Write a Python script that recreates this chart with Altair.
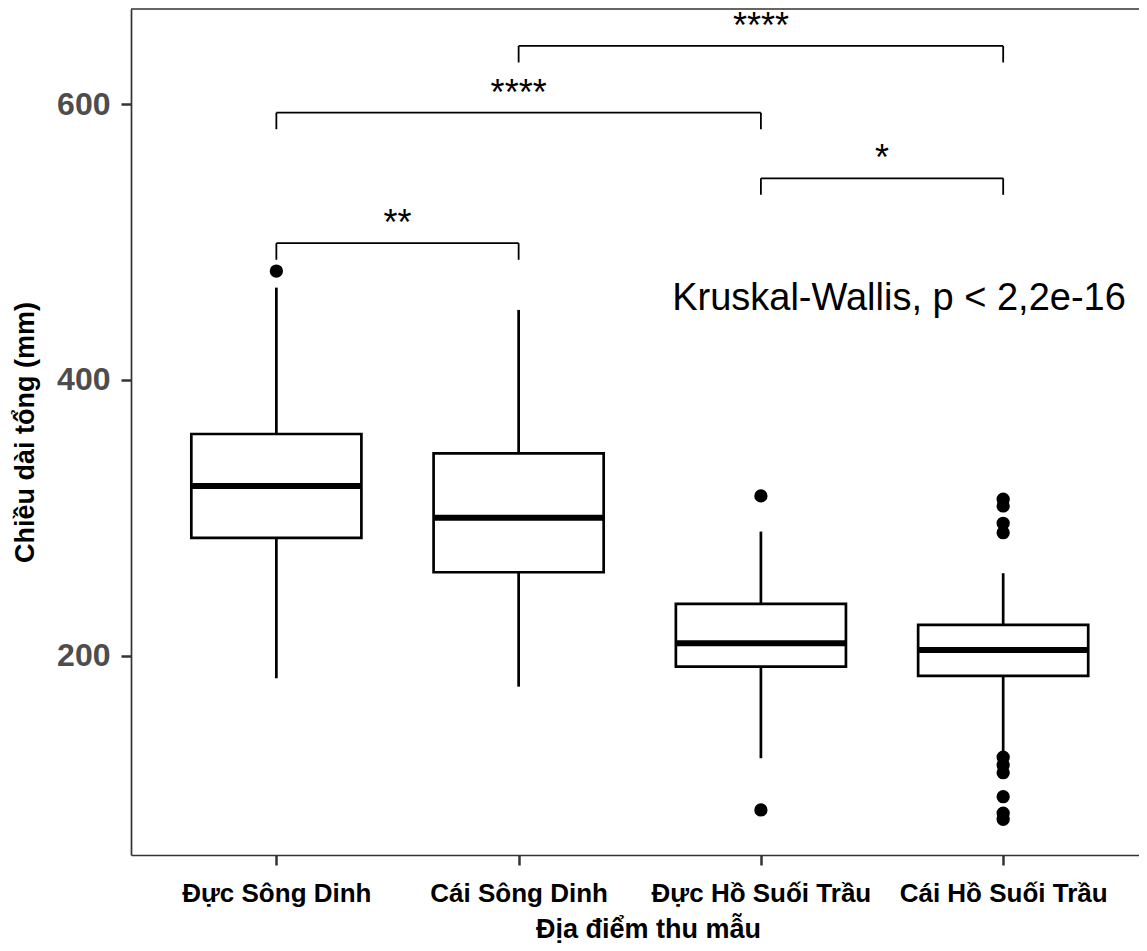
import json
import altair as alt
import pandas as pd

# ---------------- data ----------------
categories = ["Đực Sông Dinh", "Cái Sông Dinh", "Đực Hồ Suối Trầu", "Cái Hồ Suối Trầu"]
whisker_low = [183.6, 177.5, 125.6, 130.4]
q1 = [285.4, 260.5, 192.0, 185.3]
median = [323.1, 300.1, 209.0, 204.1]
q3 = [360.8, 346.8, 237.5, 222.3]
whisker_high = [467.0, 450.8, 290.0, 259.8]

outlier_group = [1, 3, 3, 4, 4, 4, 4, 4, 4, 4, 4, 4, 4]
outlier_value = [479.0, 315.9, 88.1, 313.5, 308.6, 296.0, 289.2,
                 126.3, 120.7, 115.1, 97.7, 85.7, 81.3]

bracket_from = [1, 1, 3, 2]
bracket_to = [2, 3, 4, 4]
bracket_y = [499.2, 593.9, 546.3, 642.3]
bracket_label = ["**", "****", "*", "****"]

test_label = ["Kruskal-Wallis, p < 2,2e-16"]
test_x = [3.57]
test_y = [451.0]

y_ticks = [200, 400, 600]
x_title = "Địa điểm thu mẫu"
y_title = "Chiều dài tổng (mm)"

# ---------------- tables ----------------
box_df = pd.DataFrame({
    "group": categories,
    "pos": list(range(1, len(categories) + 1)),
    "lo": whisker_low, "q1": q1, "med": median, "q3": q3, "hi": whisker_high,
})
out_df = pd.DataFrame({"pos": outlier_group, "value": outlier_value})
br_df = pd.DataFrame({"a": bracket_from, "b": bracket_to, "y": bracket_y, "label": bracket_label})
ann_df = pd.DataFrame({"label": test_label, "x": test_x, "y": test_y})

FONT = "Liberation Sans"
W, H = 1008, 846
STEP = 242.27
HALF = 0.351
TIP = 12

xscale = alt.Scale(domain=[0.4, 0.4 + W / STEP], nice=False, zero=False)
yscale = alt.Scale(domain=[55.4, 669.1], nice=False, zero=False)

label_expr = json.dumps([""] + categories, ensure_ascii=False) + "[datum.value]"

xaxis = alt.Axis(
    values=[1, 2, 3, 4], labelExpr=label_expr, title=x_title, grid=False,
    tickSize=10, tickWidth=2.5, tickColor="#333333",
    domainColor="#333333", domainWidth=1.7,
    labelFont=FONT, labelFontSize=26, labelFontWeight="bold", labelColor="black",
    labelPadding=15, labelFlush=False, labelOverlap=False, labelLimit=0,
    titleFont=FONT, titleFontSize=27, titleFontWeight="bold", titleColor="black",
    titleX=517, titleY=82, titleBaseline="alphabetic", titleAlign="center",
)
yaxis = alt.Axis(
    values=y_ticks, title=y_title, grid=False,
    tickSize=10, tickWidth=2.5, tickColor="#333333",
    domainColor="#333333", domainWidth=1.7,
    labelFont=FONT, labelFontSize=32, labelFontWeight="bold", labelColor="#4D4D4D",
    labelPadding=11, labelFlush=False, labelLimit=0,
    titleFont=FONT, titleFontSize=27, titleFontWeight="bold", titleColor="black",
    titleX=-98, titleY=H / 2, titleAngle=270, titleBaseline="alphabetic", titleAlign="center",
)


def X(field):
    return alt.X(field, type="quantitative", scale=xscale, axis=xaxis)


def Y(field):
    return alt.Y(field, type="quantitative", scale=yscale, axis=yaxis)


base_box = alt.Chart(box_df).transform_calculate(
    xl=f"datum.pos - {HALF}", xr=f"datum.pos + {HALF}"
)

whisk_lo = alt.Chart(box_df).mark_rule(color="black", strokeWidth=2.7).encode(
    x=X("pos"), y=Y("lo"), y2="q1")
whisk_hi = alt.Chart(box_df).mark_rule(color="black", strokeWidth=2.7).encode(
    x=X("pos"), y=Y("q3"), y2="hi")
boxes = base_box.mark_bar(fill="white", stroke="black", strokeWidth=2.7).encode(
    x=X("xl"), x2="xr", y=Y("q1"), y2="q3")
medians = base_box.mark_rule(color="black", strokeWidth=6).encode(
    x=X("xl"), x2="xr", y=Y("med"))
points = alt.Chart(out_df).mark_circle(size=177, color="black", opacity=1).encode(
    x=X("pos"), y=Y("value"))

br_base = alt.Chart(br_df).transform_calculate(
    mid="(datum.a + datum.b) / 2", yt=f"datum.y - {TIP}")
br_h = br_base.mark_rule(color="black", strokeWidth=1.8).encode(
    x=X("a"), x2="b", y=Y("y"))
br_l = br_base.mark_rule(color="black", strokeWidth=1.8).encode(
    x=X("a"), y=Y("yt"), y2="y")
br_r = br_base.mark_rule(color="black", strokeWidth=1.8).encode(
    x=X("b"), y=Y("yt"), y2="y")
br_t = br_base.mark_text(font=FONT, fontSize=36, baseline="alphabetic", align="center",
                         dy=-8, color="black").encode(
    x=X("mid"), y=Y("y"), text="label:N")

ann = alt.Chart(ann_df).mark_text(font=FONT, fontSize=38, baseline="alphabetic",
                                  align="center", color="black").encode(
    x=X("x"), y=Y("y"), text="label:N")

top_border = alt.Chart(alt.Data(values=[{}])).mark_rule(
    color="#333333", strokeWidth=1.7).encode(
    x=alt.value(0), x2=alt.value(W), y=alt.value(0))

chart = alt.layer(
    whisk_lo, whisk_hi, boxes, medians, points,
    br_h, br_l, br_r, br_t, ann, top_border,
).properties(
    width=W, height=H,
    autosize=alt.AutoSizeParams(type="none"),
    padding={"left": 123, "top": 1, "right": 0, "bottom": 88},
    background="white",
).configure_view(stroke=None)

chart.save("out.html", embed_options={"renderer": "svg", "actions": False})
